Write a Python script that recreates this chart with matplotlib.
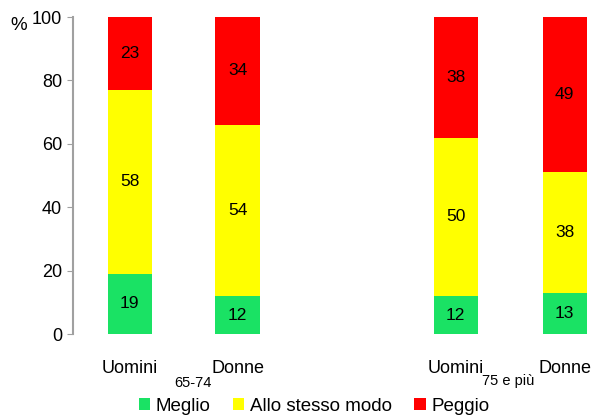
import matplotlib.pyplot as plt
from matplotlib.patches import Patch
import matplotlib.transforms as mtransforms

plt.rcParams['font.family'] = ['Liberation Sans', 'DejaVu Sans']

# dati
categories = ['Uomini', 'Donne', 'Uomini', 'Donne']
groups = ['65-74', '75 e più']
meglio = [19, 12, 12, 13]
stesso = [58, 54, 50, 38]
peggio = [23, 34, 38, 49]
series_names = ['Meglio', 'Allo stesso modo', 'Peggio']

positions = [0, 1, 3.02, 4.03]
colors = ['#1AE264', '#FFFF00', '#FF0000']

fig = plt.figure(figsize=(5.95, 4.17), dpi=100)
ax = fig.add_axes([0.123, 0.199, 0.867, 0.760])

bottom = [0, 0, 0, 0]
for vals, col in zip([meglio, stesso, peggio], colors):
    ax.bar(positions, vals, width=0.41, bottom=bottom, color=col, edgecolor='none')
    for x, b, v in zip(positions, bottom, vals):
        ax.text(x, b + v / 2, str(v), ha='center', va='center', fontsize=12.5)
    bottom = [b + v for b, v in zip(bottom, vals)]

ax.set_ylim(0, 100)
ax.set_xlim(-0.523, 4.255)
ax.set_yticks([0, 20, 40, 60, 80, 100])
ax.tick_params(axis='y', labelsize=13, length=4, color='#A0A0A0', pad=4)
ax.set_xticks(positions)
ax.set_xticklabels(categories, fontsize=13)
ax.tick_params(axis='x', length=0, pad=19)
for s in ['top', 'right', 'bottom']:
    ax.spines[s].set_visible(False)
ax.spines['left'].set_color('#A0A0A0')
ax.spines['left'].set_linewidth(1.5)

# etichette dei gruppi
trans = mtransforms.blended_transform_factory(ax.transData, fig.transFigure)
ax.text(0.59, 1 - 383 / 417, groups[0], transform=trans, ha='center', va='center', fontsize=10.5)
ax.text(3.51, 1 - 381 / 417, groups[1], transform=trans, ha='center', va='center', fontsize=10.5)

fig.text(19 / 595, 1 - 26 / 417, '%', ha='center', va='center', fontsize=13.5)

handles = [Patch(facecolor=c, edgecolor='none') for c in colors]
fig.legend(handles, series_names, loc='center', bbox_to_anchor=(0.528, 0.026), ncol=3,
           frameon=False, fontsize=13.5, handlelength=0.6, handleheight=0.6,
           handletextpad=0.3, columnspacing=1.2, borderpad=0)

fig.savefig('out.png', dpi=100)
